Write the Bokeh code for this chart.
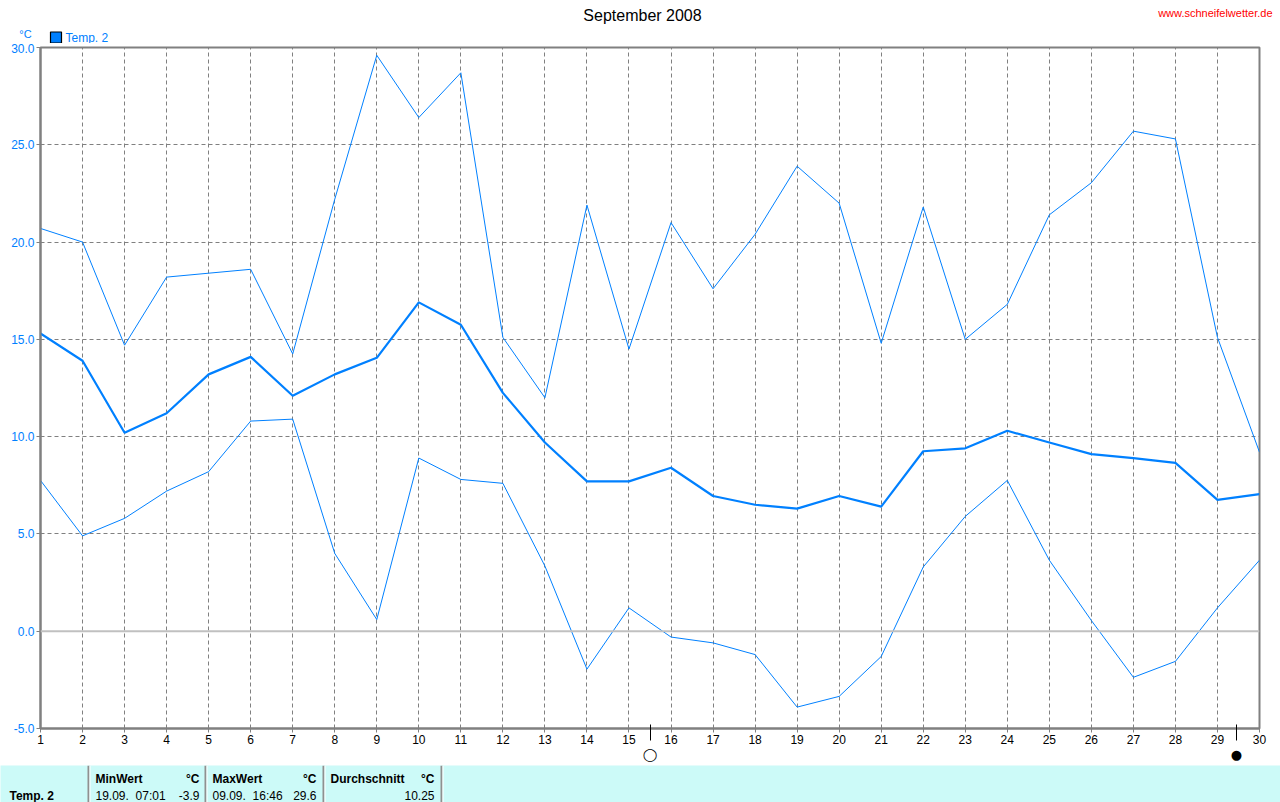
from bokeh.plotting import figure
from bokeh.models import (Range1d, Span, FixedTicker, NumeralTickFormatter, LinearAxis)
from bokeh.layouts import column
from bokeh.core.properties import value
from bokeh.embed import file_html
from bokeh.resources import INLINE

# ---------------- data ----------------
days = list(range(1, 31))
t_max = [20.7, 20.0, 14.7, 18.2, 18.4, 18.6, 14.25, 22.2, 29.6, 26.4,
         28.7, 15.1, 12.0, 21.9, 14.5, 21.0, 17.6, 20.4, 23.9, 22.0,
         14.8, 21.8, 15.0, 16.8, 21.4, 23.05, 25.7, 25.3, 15.1, 9.2]
t_mean = [15.3, 13.9, 10.2, 11.2, 13.2, 14.1, 12.1, 13.2, 14.05, 16.9,
          15.75, 12.25, 9.7, 7.7, 7.7, 8.4, 6.95, 6.5, 6.3, 6.95,
          6.4, 9.25, 9.4, 10.3, 9.7, 9.1, 8.9, 8.65, 6.75, 7.05]
t_min = [7.75, 4.9, 5.8, 7.2, 8.2, 10.8, 10.9, 4.0, 0.6, 8.9,
         7.8, 7.6, 3.35, -1.95, 1.2, -0.3, -0.6, -1.2, -3.9, -3.35,
         -1.3, 3.3, 5.9, 7.75, 3.65, 0.55, -2.37, -1.55, 1.2, 3.65]
y_ticks = [-5, 0, 5, 10, 15, 20, 25, 30]
moon_full = 15.5
moon_new = 29.45

title_text = "September 2008"
site_text = "www.schneifelwetter.de"
unit_text = "°C"
series_name = "Temp. 2"

stat_headers = ["MinWert", "MaxWert", "Durchschnitt"]
stat_times = ["19.09.\u00a0 07:01", "09.09.\u00a0 16:46", ""]
stat_values = ["-3.9", "29.6", "10.25"]

BLUE = "#0080FF"
GRAY = "#808080"
FONT = "Liberation Sans"
W = 1280

# ---------------- header (title, site, unit, legend) ----------------
h = figure(width=W, height=43, x_range=Range1d(0, W), y_range=Range1d(43, 0),
           output_backend="svg", toolbar_location=None, min_border=0,
           x_axis_type=None, y_axis_type=None)
h.frame_align = False
h.outline_line_color = None
h.grid.visible = False
h.background_fill_color = "white"
h.border_fill_color = "white"
h.text(x=[642], y=[15], text=[title_text], text_font=value(FONT), text_font_size="16px",
       text_color="black", text_align="center", text_baseline="middle")
h.text(x=[1272], y=[12], text=[site_text], text_font=value(FONT), text_font_size="11px",
       text_color="#FF0000", text_align="right", text_baseline="middle")
h.text(x=[25], y=[33], text=[unit_text], text_font=value(FONT), text_font_size="11px",
       text_color=BLUE, text_align="center", text_baseline="middle")
h.rect(x=[55.5], y=[37], width=11, height=11, fill_color=BLUE, line_color="black",
       line_width=1.2)
h.text(x=[65], y=[37], text=[series_name], text_font=value(FONT), text_font_size="12px",
       text_color=BLUE, text_align="left", text_baseline="middle")

# ---------------- main chart ----------------
p = figure(width=W, height=722, x_range=Range1d(1, 30), y_range=Range1d(-5, 30),
           output_backend="svg", toolbar_location=None,
           min_border_left=40, min_border_right=21, min_border_top=4, min_border_bottom=37)
p.frame_align = False
p.background_fill_color = "white"
p.border_fill_color = "white"
p.outline_line_color = GRAY
p.outline_line_width = 2

p.xaxis.ticker = FixedTicker(ticks=days)
p.yaxis.ticker = FixedTicker(ticks=y_ticks)
p.yaxis.formatter = NumeralTickFormatter(format="0.0")
for ax in (p.xaxis[0], p.yaxis[0]):
    ax.axis_line_color = GRAY
    ax.axis_line_width = 2
    ax.major_tick_line_color = GRAY
    ax.major_tick_out = 4
    ax.major_tick_in = 0
    ax.minor_tick_line_color = None
    ax.major_label_text_font = FONT
    ax.major_label_text_font_size = "12px"
p.yaxis.major_label_text_color = BLUE
p.yaxis.major_label_standoff = 2
p.xaxis.major_label_text_color = "black"
p.xaxis.major_label_standoff = 2

# moon phase axis (full moon / new moon)
moon_axis = LinearAxis(ticker=FixedTicker(ticks=[moon_full, moon_new]),
                       major_label_overrides={moon_full: "◯", moon_new: "●"})
moon_axis.axis_line_color = None
moon_axis.minor_tick_line_color = None
moon_axis.major_tick_line_color = "black"
moon_axis.major_tick_in = 22
moon_axis.major_tick_out = -6
moon_axis.major_label_standoff = 0
moon_axis.major_label_text_font = "DejaVu Sans"
moon_axis.major_label_text_font_size = "13px"
moon_axis.major_label_text_color = "black"
p.add_layout(moon_axis, "below")

p.grid.grid_line_color = GRAY
p.grid.grid_line_dash = "4 3"
p.grid.grid_line_width = 1
p.grid.grid_line_alpha = 1.0
p.xgrid.ticker = FixedTicker(ticks=days)
p.ygrid.ticker = FixedTicker(ticks=y_ticks)

p.add_layout(Span(location=0, dimension="width", line_color="#C0C0C0", line_width=2))

p.line(days, t_max, line_color=BLUE, line_width=1)
p.line(days, t_min, line_color=BLUE, line_width=1)
p.line(days, t_mean, line_color=BLUE, line_width=2.2)

# ---------------- statistics table ----------------
t = figure(width=W, height=37, x_range=Range1d(0, W), y_range=Range1d(37, 0),
           output_backend="svg", toolbar_location=None, min_border=0,
           x_axis_type=None, y_axis_type=None)
t.frame_align = False
t.outline_line_color = None
t.grid.visible = False
t.background_fill_color = "#CCFAF8"
t.border_fill_color = "#CCFAF8"

col_left = [88, 205, 323]
col_w = 118
seps = col_left + [col_left[-1] + col_w]
t.segment(x0=seps, y0=[0] * len(seps), x1=seps, y1=[37] * len(seps),
          line_color="#909090", line_width=2)
t.segment(x0=[s + 1.5 for s in seps], y0=[0] * len(seps), x1=[s + 1.5 for s in seps],
          y1=[37] * len(seps), line_color="white", line_width=1)

row1, row2 = 13, 30
t.text(x=[9], y=[row2], text=[series_name], text_font=value(FONT),
       text_font_size="12px", text_font_style="bold", text_color="black",
       text_align="left", text_baseline="middle")
t.text(x=[c + 7 for c in col_left], y=[row1] * 3, text=stat_headers,
       text_font=value(FONT), text_font_size="12px", text_font_style="bold",
       text_color="black", text_align="left", text_baseline="middle")
t.text(x=[c + col_w - 7 for c in col_left], y=[row1] * 3, text=[unit_text] * 3,
       text_font=value(FONT), text_font_size="12px", text_font_style="bold",
       text_color="black", text_align="right", text_baseline="middle")
t.text(x=[c + 7 for c in col_left], y=[row2] * 3, text=stat_times,
       text_font=value(FONT), text_font_size="12px",
       text_color="black", text_align="left", text_baseline="middle")
t.text(x=[c + col_w - 7 for c in col_left], y=[row2] * 3, text=stat_values,
       text_font=value(FONT), text_font_size="12px",
       text_color="black", text_align="right", text_baseline="middle")

layout = column(h, p, t, spacing=0)
open("out.html", "w").write(file_html(layout, INLINE))
